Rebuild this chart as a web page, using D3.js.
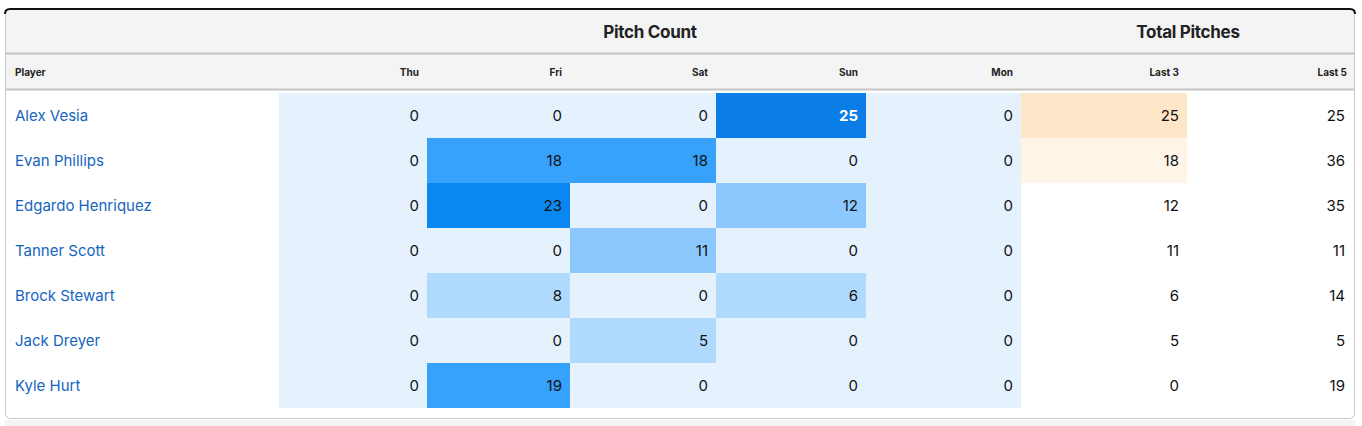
<!DOCTYPE html>
<html><head><meta charset="utf-8">
<script src="https://cdn.jsdelivr.net/npm/d3@7"></script>
<style>body{margin:0;background:#fff;font-family:Inter,"Noto Sans",sans-serif}</style>
</head><body><svg id="c" width="1362" height="426"></svg>
<script>
const players=["Alex Vesia","Evan Phillips","Edgardo Henriquez","Tanner Scott","Brock Stewart","Jack Dreyer","Kyle Hurt"];
const days=["Thu","Fri","Sat","Sun","Mon"];
const thu=[0,0,0,0,0,0,0];
const fri=[0,18,23,0,8,0,19];
const sat=[0,18,0,11,0,5,0];
const sun=[25,0,12,0,6,0,0];
const mon=[0,0,0,0,0,0,0];
const last3=[25,18,12,11,6,5,0];
const last5=[25,36,35,11,14,5,19];
const dayVals=[thu,fri,sat,sun,mon];

const svg=d3.select("#c");
const colEdges=[5,279,427,570,716,866,1021,1187,1355];
const x0=5,x1=1355;
const y=d3.scaleBand().domain(players).range([93,408]);
const pitchColor=d3.scaleThreshold().domain([1,10,15,21,24]).range(["#e5f1fd","#b0dafd","#8cc8fd","#36a2fc","#0a88f2","#0a7ee6"]);
const l3Color=d3.scaleThreshold().domain([15,20]).range(["#ffffff","#fef5e8","#fde7c8"]);

svg.append("rect").attr("x",5).attr("y",420).attr("width",1350).attr("height",6).attr("fill","#f4f4f4");
svg.append("rect").attr("x",5.5).attr("y",9.5).attr("width",1349).attr("height",409).attr("rx",5).attr("fill","#fff").attr("stroke","#c8c8c8");
svg.append("rect").attr("x",6).attr("y",10).attr("width",1348).attr("height",79).attr("fill","#f4f4f4");
svg.append("path").attr("d","M5,14 Q5,9 10,9 L1350,9 Q1355,9 1355,14").attr("fill","none").attr("stroke","#111").attr("stroke-width",2);
svg.append("line").attr("x1",6).attr("x2",1354).attr("y1",53.5).attr("y2",53.5).attr("stroke","#c4c4c4").attr("stroke-width",2);
svg.append("line").attr("x1",6).attr("x2",1354).attr("y1",89.5).attr("y2",89.5).attr("stroke","#c4c4c4").attr("stroke-width",2);

svg.append("text").attr("x",(colEdges[1]+colEdges[6])/2).attr("y",38).attr("text-anchor","middle").attr("font-size",17).attr("font-weight",700).attr("fill","#222").attr("letter-spacing","-0.3").text("Pitch Count");
svg.append("text").attr("x",(colEdges[6]+colEdges[8])/2).attr("y",38).attr("text-anchor","middle").attr("font-size",17).attr("font-weight",700).attr("fill","#222").attr("letter-spacing","-0.3").text("Total Pitches");

const heads=["Player",...days,"Last 3","Last 5"];
heads.forEach((h,i)=>{
  svg.append("text").attr("x",i===0?15:colEdges[i+1]-8).attr("y",76).attr("text-anchor",i===0?"start":"end")
   .attr("font-size",10).attr("font-weight",700).attr("fill","#222").text(h);
});

players.forEach((p,r)=>{
  const yy=y(p),h=y.bandwidth(),cy=yy+h/2+5.5;
  svg.append("text").attr("x",15).attr("y",cy).attr("font-size",15).attr("fill","#1565c0").text(p);
  dayVals.forEach((arr,c)=>{
    const v=arr[r];
    svg.append("rect").attr("x",colEdges[c+1]).attr("y",yy).attr("width",colEdges[c+2]-colEdges[c+1]).attr("height",h).attr("fill",pitchColor(v));
    svg.append("text").attr("x",colEdges[c+2]-8).attr("y",cy).attr("text-anchor","end").attr("font-size",15)
      .attr("fill",v>=24?"#fff":"#111").attr("font-weight",v>=24?700:400).text(v);
  });
  svg.append("rect").attr("x",colEdges[6]).attr("y",yy).attr("width",colEdges[7]-colEdges[6]).attr("height",h).attr("fill",l3Color(last3[r]));
  svg.append("text").attr("x",colEdges[7]-8).attr("y",cy).attr("text-anchor","end").attr("font-size",15).attr("fill","#111").text(last3[r]);
  svg.append("text").attr("x",colEdges[8]-10).attr("y",cy).attr("text-anchor","end").attr("font-size",15).attr("fill","#111").text(last5[r]);
});
</script></body></html>
